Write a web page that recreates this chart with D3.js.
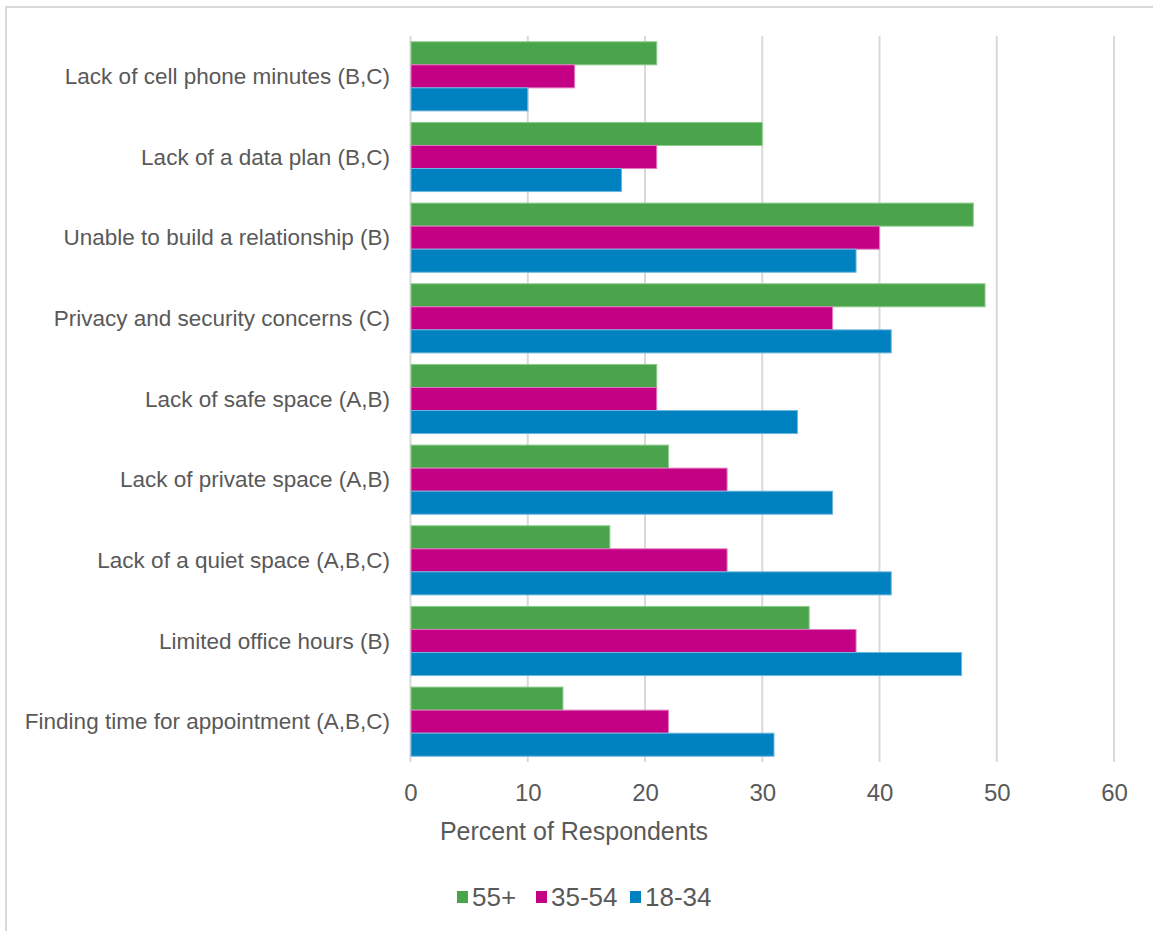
<!DOCTYPE html>
<html>
<head>
<meta charset="utf-8">
<script src="https://cdn.jsdelivr.net/npm/d3@7"></script>
<style>
  html, body { margin: 0; padding: 0; background: #fff; }
  svg { display: block; }
  text { font-family: "Liberation Sans", Arial, sans-serif; fill: #595959; }
</style>
</head>
<body>
<svg id="chart" width="1153" height="931"></svg>
<script>
const categories = [
  "Lack of cell phone minutes (B,C)",
  "Lack of a data plan (B,C)",
  "Unable to build a relationship (B)",
  "Privacy and security concerns (C)",
  "Lack of safe space (A,B)",
  "Lack of private space (A,B)",
  "Lack of a quiet space (A,B,C)",
  "Limited office hours (B)",
  "Finding time for appointment (A,B,C)"
];
const seriesNames = ["55+", "35-54", "18-34"];
const values55 = [21, 30, 48, 49, 21, 22, 17, 34, 13];
const values3554 = [14, 21, 40, 36, 21, 27, 27, 38, 22];
const values1834 = [10, 18, 38, 41, 33, 36, 41, 47, 31];
const xTicks = [0, 10, 20, 30, 40, 50, 60];
const axisTitle = "Percent of Respondents";
const colors = ["#4AA44B", "#C40084", "#0082C0"];
const strokes = ["#8CCB8C", "#E07BBF", "#6DB6DD"];

(function () {
const seriesValues = [values55, values3554, values1834];
const svg = d3.select("#chart");

// outer border
svg.append("rect").attr("x", 6).attr("y", 7).attr("width", 1160).attr("height", 940)
  .attr("fill", "none").attr("stroke", "#d9d9d9").attr("stroke-width", 2);

const pLeft = 410.5, pRight = 1114, pTop = 36, pBottom = 762;
const x = d3.scaleLinear().domain([0, 60]).range([pLeft, pRight]);
const y = d3.scaleBand().domain(categories).range([pTop, pBottom]).paddingInner(0.143).paddingOuter(0.0715);
const ySub = d3.scaleBand().domain(seriesNames).range([0, y.bandwidth()]);

// gridlines
svg.append("g").selectAll("line").data(xTicks).join("line")
  .attr("x1", d => x(d)).attr("x2", d => x(d))
  .attr("y1", pTop).attr("y2", pBottom)
  .attr("stroke", "#d9d9d9").attr("stroke-width", 2);

// bars
const groups = svg.append("g").selectAll("g").data(categories).join("g")
  .attr("transform", c => `translate(0,${y(c)})`);
groups.selectAll("rect").data((c, i) => seriesNames.map((s, j) => ({s, j, v: seriesValues[j][i]})))
  .join("rect")
  .attr("x", x(0) + 0.5)
  .attr("y", d => ySub(d.s))
  .attr("width", d => x(d.v) - x(0) - 0.5)
  .attr("height", ySub.bandwidth())
  .attr("fill", d => colors[d.j])
  .attr("stroke", d => strokes[d.j])
  .attr("stroke-width", 1);

// category labels
svg.append("g").selectAll("text").data(categories).join("text")
  .attr("x", 390).attr("y", c => y(c) + y.bandwidth() / 2)
  .attr("text-anchor", "end").attr("dominant-baseline", "central")
  .style("font-size", "22.5px")
  .text(c => c);

// x axis tick labels
const xAxis = d3.axisBottom(x).tickValues(xTicks).tickSize(0).tickPadding(0);
const gx = svg.append("g").attr("transform", `translate(0,${792})`).call(xAxis);
gx.select(".domain").remove();
gx.selectAll("text").style("font-size", "24px").style("font-family", "'Liberation Sans', Arial, sans-serif")
  .attr("fill", "#595959").attr("dy", null).attr("y", 0).attr("dominant-baseline", "central");

// axis title
svg.append("text").attr("x", 574).attr("y", 831).attr("text-anchor", "middle")
  .attr("dominant-baseline", "central").style("font-size", "25px").text(axisTitle);

// legend
const legendX = [457, 536, 630];
const lg = svg.append("g").selectAll("g").data(seriesNames).join("g")
  .attr("transform", (d, i) => `translate(${legendX[i]},897)`);
lg.append("rect").attr("x", 0).attr("y", -6).attr("width", 11).attr("height", 12)
  .attr("fill", (d, i) => colors[i]);
lg.append("text").attr("x", 15).attr("y", 0).attr("dominant-baseline", "central")
  .style("font-size", "26px").text(d => d);
})();
</script>
</body>
</html>
